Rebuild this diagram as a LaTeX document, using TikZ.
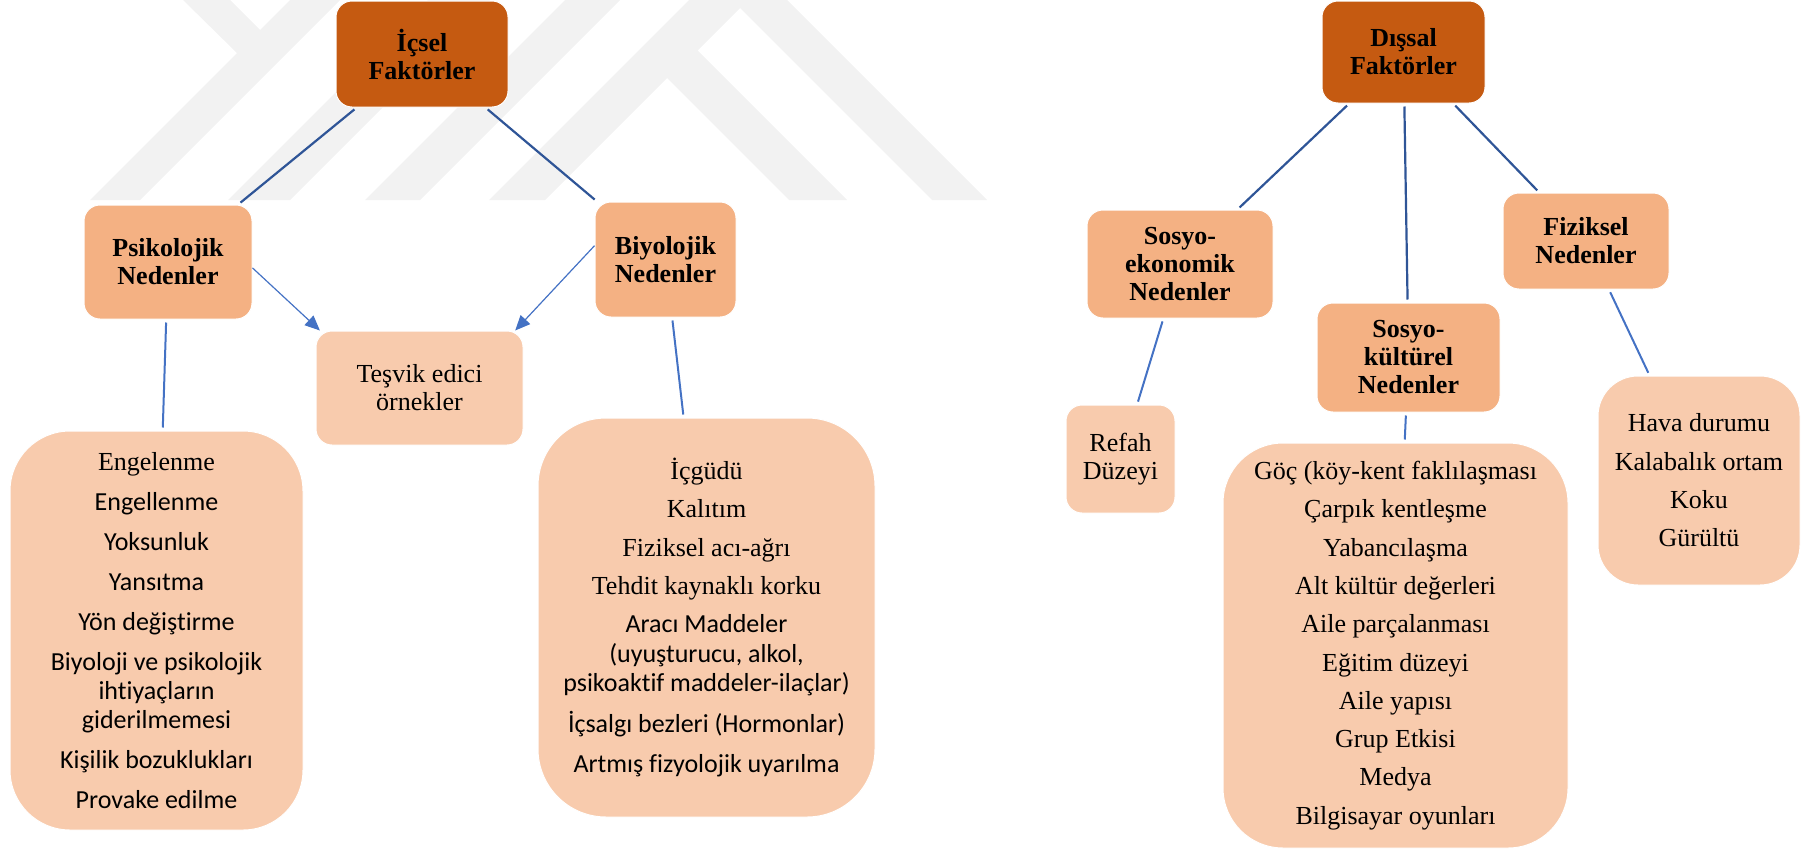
\documentclass[tikz,border=0pt]{standalone}
\usepackage{fontspec}
\setmainfont[Ligatures = NoCommon]{Liberation Serif}
\newfontfamily\calibri[Ligatures = NoCommon]{Carlito}
\usepackage{tikz}
\usetikzlibrary{arrows.meta}
\definecolor{factororange}{HTML}{C55A11}
\definecolor{causeorange}{HTML}{F4B183}
\definecolor{itemorange}{HTML}{F8CBAD}
\definecolor{linkblue}{HTML}{2F5597}
\definecolor{arrowblue}{HTML}{4472C4}
\definecolor{markgray}{HTML}{F2F2F2}
\newcommand{\nodehead}{\fontsize{26}{28}\selectfont\bfseries}
\newcommand{\nodebody}{\fontsize{26}{28}\selectfont}
\newcommand{\nodemix}{\fontsize{26}{29.5}\selectfont}
\tikzstyle{box} = [rectangle, align = center, inner sep = 0, draw = white, line width = 1]
\tikzstyle{factor} = [box, fill = factororange, rounded corners = 16, font = \nodehead]
\tikzstyle{cause} = [box, fill = causeorange, rounded corners = 16, font = \nodehead]
\tikzstyle{example} = [box, fill = itemorange, rounded corners = 16, font = \nodebody]
\tikzstyle{item list} = [box, fill = itemorange, rounded corners = 60, font = \nodebody]
\tikzstyle{link} = [draw = linkblue, line width = 2.2, shorten < = 3, shorten > = 3]
\tikzstyle{sublink} = [draw = arrowblue, line width = 2, shorten < = 3, shorten > = 3]
\tikzstyle{push} = [draw = arrowblue, line width = 1.2, -{Triangle[length = 15pt, width = 13pt]}]
\tikzstyle{watermark} = [fill = markgray]
\tikzstyle{graph picture} = [x = 1pt, y = -1pt]
\begin{document}
\begin{tikzpicture}[graph picture]
            \useasboundingbox (0, 0) rectangle (1804, 849);
            % watermark
            \fill [watermark] (90, 200) -- (237, 53) -- (183, 0) -- (230, 0) -- (260, 30)
                -- (290, 0) -- (340, 0) -- (140, 200) -- cycle;
            \fill [watermark] (228, 200) -- (428, 0) -- (490, 0) -- (290, 200) -- cycle;
            \fill [watermark] (365, 200) -- (565, 0) -- (620, 0) -- (420, 200) -- cycle;
            \fill [watermark] (489, 200) -- (689, 0) -- (787, 0) -- (987, 200) -- (932, 200)
                -- (740, 8) -- (697.5, 50.5) -- (847, 200) -- (789, 200) -- (667, 78)
                -- (545, 200) -- cycle;

            % icsel faktorler
            \node [factor, minimum width = 172, minimum height = 106] (icsel) at (422, 54) {İçsel\\Faktörler};
            \node [cause, minimum width = 168, minimum height = 114] (psiko) at (168, 262) {Psikolojik\\Nedenler};
            \node [cause, minimum width = 141, minimum height = 115] (bio) at (665.5, 259.5) {Biyolojik\\Nedenler};
            \node [example, minimum width = 207, minimum height = 114] (tesvik) at (419.5, 388) {Teşvik edici\\örnekler};
            \node [item list, font = \fontsize{26}{29}\selectfont, minimum width = 293, minimum height = 399] (psikolist) at (156.5, 630.5)
            {
                Engelenme\\[11pt]
                {\calibri Engellenme}\\[11pt]
                {\calibri Yoksunluk}\\[11pt]
                {\calibri Yansıtma}\\[11pt]
                {\calibri Yön değiştirme}\\[11pt]
                {\calibri Biyoloji ve psikolojik}\\
                {\calibri ihtiyaçların}\\
                {\calibri giderilmemesi}\\[11pt]
                {\calibri Kişilik bozuklukları}\\[11pt]
                {\calibri Provake edilme}
            };
            \node [item list, font = \nodemix, rounded corners = 68, minimum width = 337, minimum height = 399] (biolist) at (706.5, 617.5)
            {
                İçgüdü\\[9pt]
                Kalıtım\\[9pt]
                Fiziksel acı-ağrı\\[9pt]
                Tehdit kaynaklı korku\\[8.5pt]
                {\calibri Aracı Maddeler}\\
                {\calibri (uyuşturucu, alkol,}\\
                {\calibri psikoaktif maddeler-ilaçlar)}\\[11.5pt]
                {\calibri İçsalgı bezleri (Hormonlar)}\\[10.5pt]
                {\calibri Artmış fizyolojik uyarılma}
            };

            % dissal faktorler
            \node [factor, minimum width = 163, minimum height = 102] (dissal) at (1403.5, 52) {Dışsal\\Faktörler};
            \node [cause, minimum width = 186, minimum height = 108] (sosyoek) at (1180, 264) {Sosyo-\\ekonomik\\Nedenler};
            \node [cause, minimum width = 183, minimum height = 109] (sosyokul) at (1408.5, 357.5) {Sosyo-\\kültürel\\Nedenler};
            \node [cause, minimum width = 166, minimum height = 96] (fiziksel) at (1586, 241) {Fiziksel\\Nedenler};
            \node [example, minimum width = 109, minimum height = 108] (refah) at (1120.5, 459) {Refah\\Düzeyi};
            \node [item list, minimum width = 345, minimum height = 405] (sosyolist) at (1395.5, 645.5)
            {
                Göç (köy-kent faklılaşması\\[10.3pt]
                Çarpık kentleşme\\[10.3pt]
                Yabancılaşma\\[10.3pt]
                Alt kültür değerleri\\[10.3pt]
                Aile parçalanması\\[10.3pt]
                Eğitim düzeyi\\[10.3pt]
                Aile yapısı\\[10.3pt]
                Grup Etkisi\\[10.3pt]
                Medya\\[10.3pt]
                Bilgisayar oyunları
            };
            \node [item list, rounded corners = 40, minimum width = 202, minimum height = 209] (hava) at (1699, 480.5)
            {
                Hava durumu\\[10.3pt]
                Kalabalık ortam\\[10.3pt]
                Koku\\[10.3pt]
                Gürültü
            };

            % connectors
            \draw [link] (icsel) -- (psiko);
            \draw [link] (icsel) -- (bio);
            \draw [sublink] (psiko) -- (psikolist);
            \draw [sublink] (bio) -- (biolist);
            \draw [push] (psiko.-4) -- (tesvik.150);
            \draw [push] (bio.169) -- (tesvik.31);
            \foreach \child in {sosyoek, sosyokul, fiziksel}
            {
                \draw [link] (dissal) -- (\child);
            }
            \draw [sublink] (sosyoek) -- (refah);
            \draw [sublink] (sosyokul) -- (sosyolist);
            \draw [sublink] (fiziksel) -- (hava);
        \end{tikzpicture}
\end{document}
